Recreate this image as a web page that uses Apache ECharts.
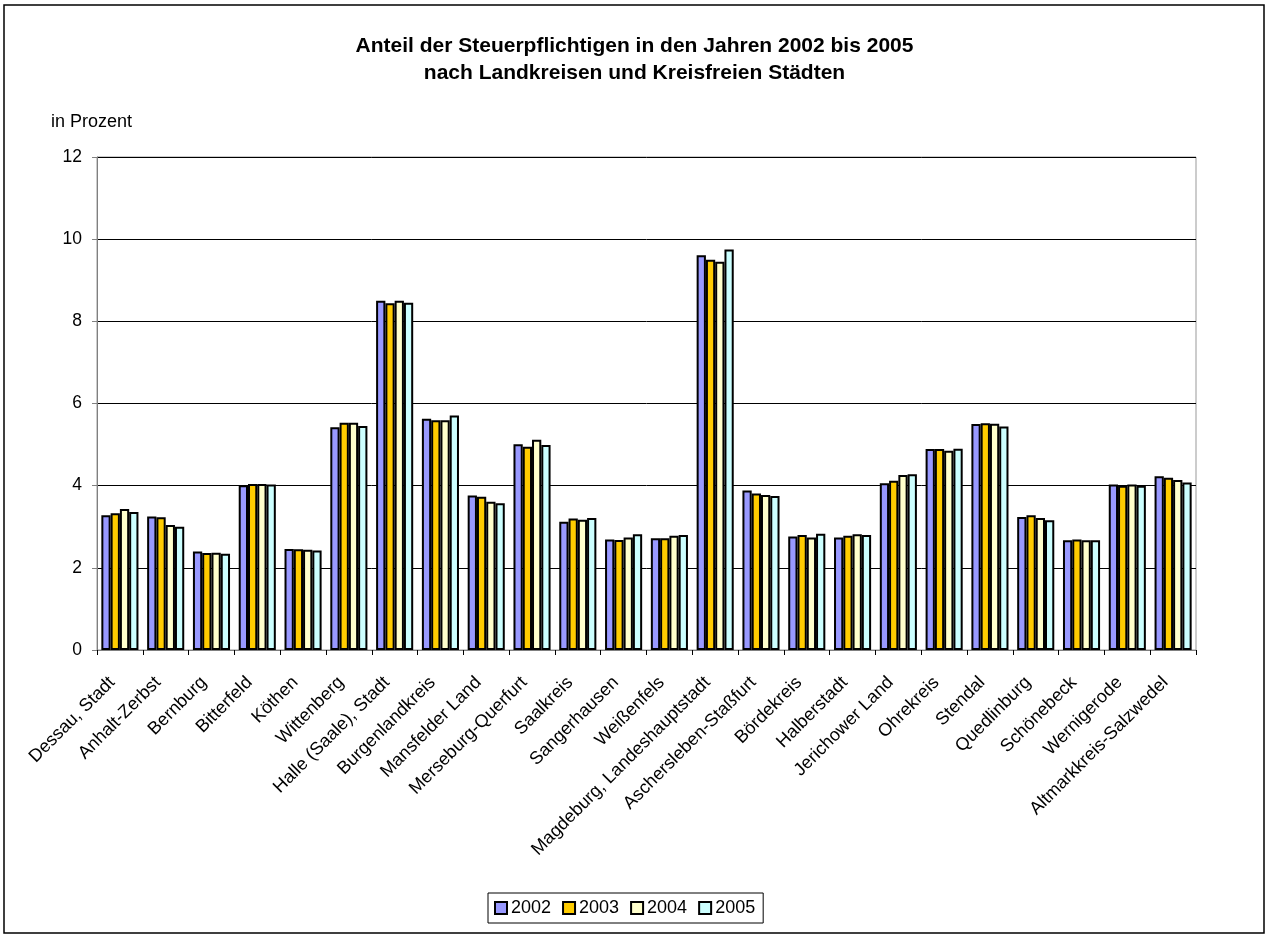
<!DOCTYPE html>
<html><head><meta charset="utf-8">
<script src="https://cdn.jsdelivr.net/npm/echarts@6/dist/echarts.min.js"></script>
<style>html,body{margin:0;padding:0;background:#fff}#c{width:1269px;height:938px}</style>
</head><body><div id="c"></div>
<script>
const categories = ["Dessau, Stadt","Anhalt-Zerbst","Bernburg","Bitterfeld","Köthen","Wittenberg","Halle (Saale), Stadt","Burgenlandkreis","Mansfelder Land","Merseburg-Querfurt","Saalkreis","Sangerhausen","Weißenfels","Magdeburg, Landeshauptstadt","Aschersleben-Staßfurt","Bördekreis","Halberstadt","Jerichower Land","Ohrekreis","Stendal","Quedlinburg","Schönebeck","Wernigerode","Altmarkkreis-Salzwedel"];
const years = ["2002","2003","2004","2005"];
const v2002 = [3.28,3.25,2.40,4.01,2.46,5.42,8.50,5.63,3.76,5.01,3.12,2.69,2.72,9.61,3.88,2.76,2.74,4.06,4.89,5.50,3.24,2.67,4.03,4.23];
const v2003 = [3.33,3.23,2.36,4.04,2.45,5.53,8.44,5.59,3.73,4.95,3.20,2.68,2.72,9.50,3.81,2.80,2.78,4.12,4.89,5.52,3.28,2.69,4.00,4.19];
const v2004 = [3.43,3.04,2.37,4.04,2.44,5.53,8.50,5.59,3.61,5.12,3.17,2.74,2.78,9.45,3.77,2.74,2.82,4.26,4.85,5.51,3.21,2.67,4.03,4.14];
const v2005 = [3.36,3.00,2.34,4.03,2.42,5.45,8.45,5.71,3.57,4.99,3.21,2.82,2.80,9.75,3.75,2.83,2.80,4.28,4.90,5.44,3.16,2.67,4.00,4.08];
const colors = ["#9999FF","#FFCC00","#FFFFCC","#CCFFFF"];
const seriesValues = [v2002,v2003,v2004,v2005];

const chart = echarts.init(document.getElementById('c'));
const font = "Liberation Sans, Arial, sans-serif";
chart.setOption({
  animation:false,
  textStyle:{fontFamily:font},
  title:{
    text:"Anteil der Steuerpflichtigen in den Jahren 2002 bis 2005\nnach Landkreisen und Kreisfreien Städten",
    left:'center', top:28,
    textStyle:{fontSize:21,fontWeight:'bold',color:'#000',lineHeight:27,fontFamily:font}
  },
  graphic:[
    {type:'rect',shape:{x:4,y:5,width:1260,height:928},style:{fill:'none',stroke:'#000',lineWidth:1.5},silent:true},
    {type:'text',left:51,top:113,style:{text:'in Prozent',fontSize:18,fill:'#000',fontFamily:font}},
    {type:'rect',shape:{x:97,y:157,width:1099,height:493},style:{fill:'none',stroke:'#999',lineWidth:1},silent:true,z:-1}
  ],
  legend:{
    data:years, top:893, left:488,
    itemWidth:12, itemHeight:12, itemGap:11,
    padding:[6,8,6,6],
    borderColor:'#000', borderWidth:1,
    textStyle:{fontSize:18,color:'#000',padding:[0,0,0,-1]},
    icon:'rect',
    itemStyle:{borderColor:'#000',borderWidth:2}
  },
  grid:{left:97,right:73,top:157,bottom:288,containLabel:false},
  xAxis:{
    type:'category', data:categories,
    axisLine:{lineStyle:{color:'#808080',width:1}},
    axisTick:{show:true,length:5,lineStyle:{color:'#000'},alignWithLabel:false},
    axisLabel:{rotate:45,fontSize:18,color:'#000',interval:0,margin:22,padding:[0,11,0,0],fontFamily:font},
    splitLine:{show:false}
  },
  yAxis:{
    type:'value', min:0, max:12, interval:2,
    axisLine:{show:true,lineStyle:{color:'#808080'}},
    axisTick:{show:true,length:5,inside:false,lineStyle:{color:'#808080'}},
    axisLabel:{fontSize:17.5,color:'#000',margin:15,fontFamily:font},
    splitLine:{lineStyle:{color:'#000',width:1}}
  },
  series: years.map((y,i)=>({
    name:y, type:'bar', data:seriesValues[i],
    barGap:'0%', barCategoryGap:'19%',
    itemStyle:{color:colors[i],borderColor:'#000',borderWidth:2}
  }))
});
</script></body></html>
